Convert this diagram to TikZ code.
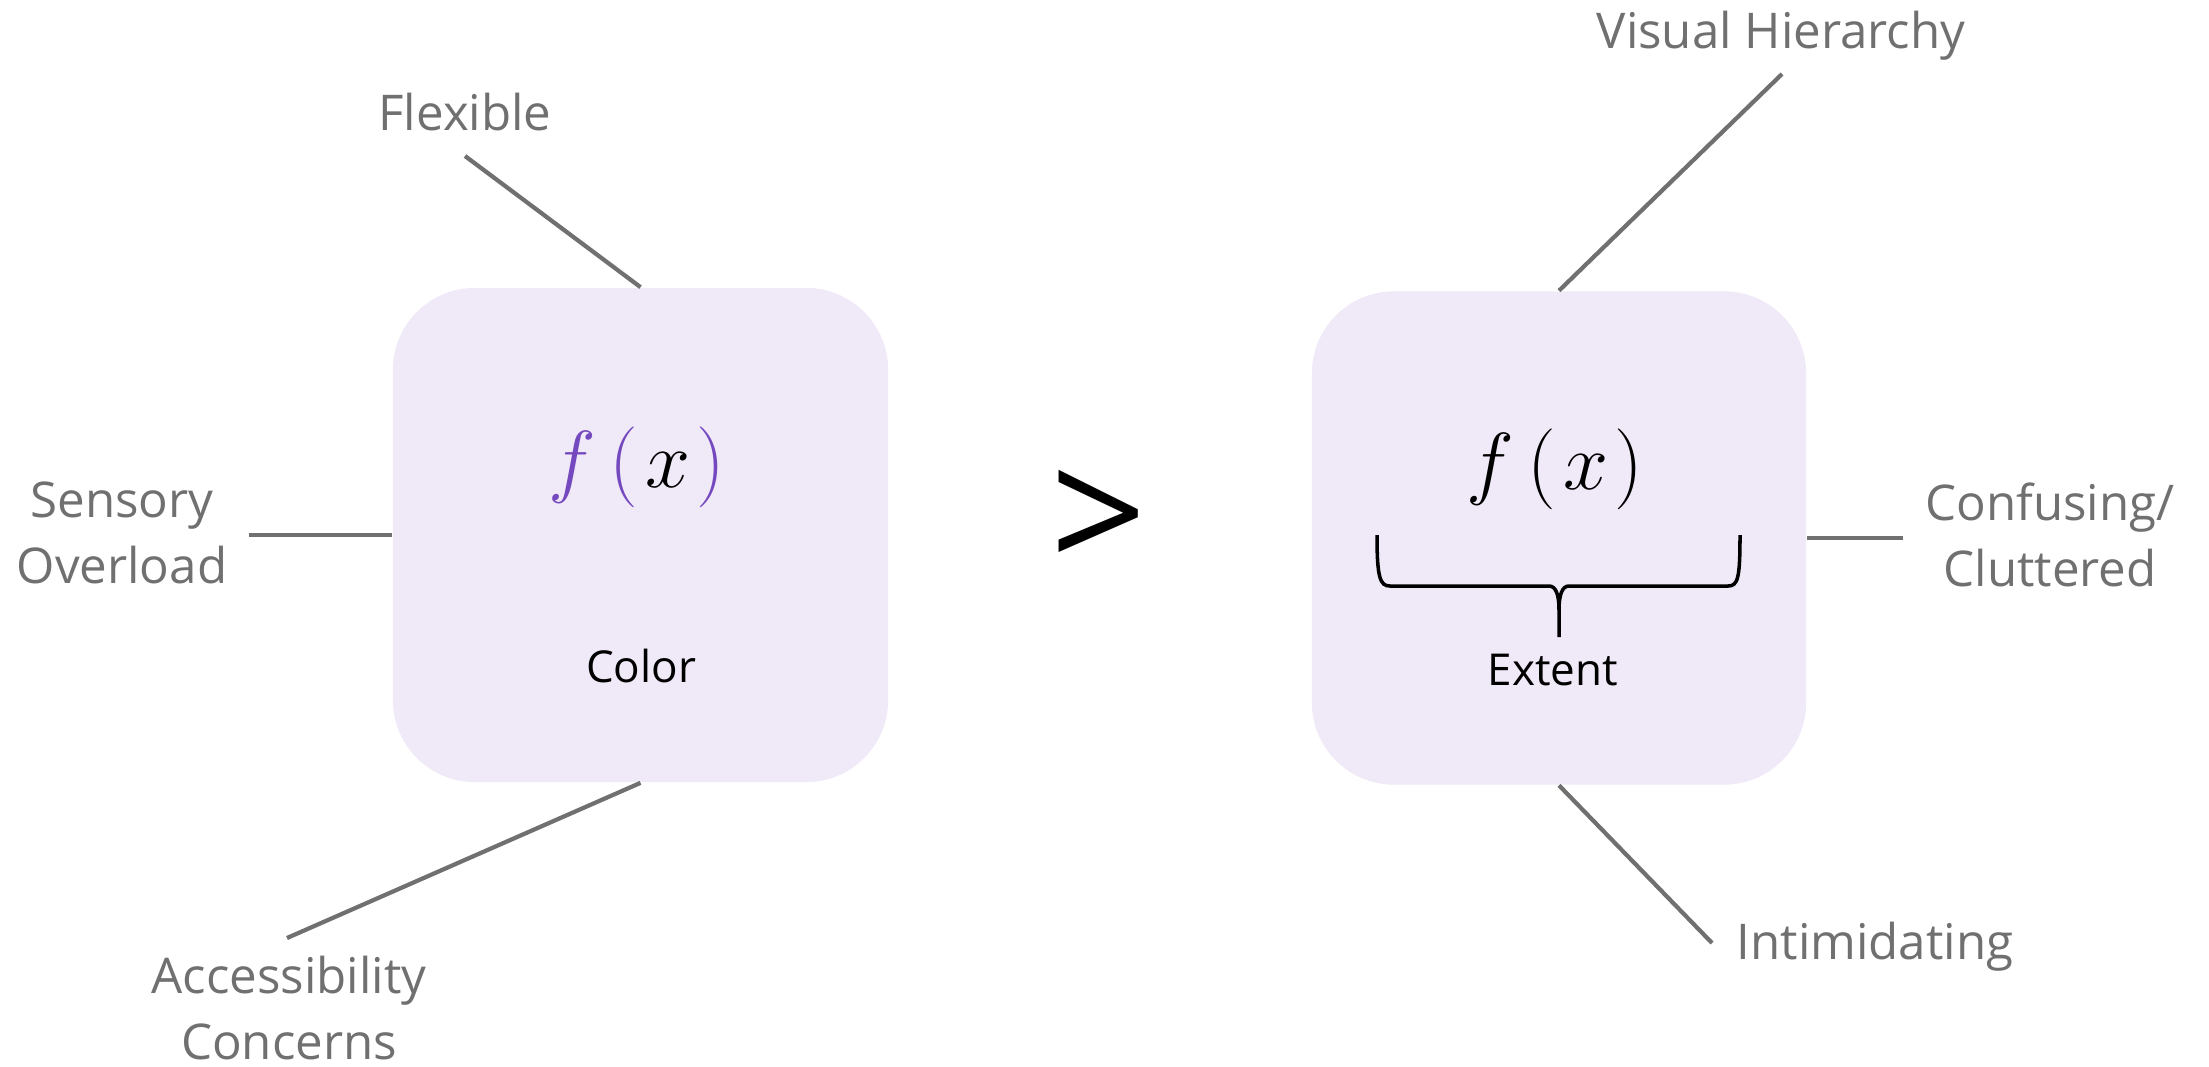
\RequirePackage{fix-cm}
\documentclass[tikz,border=0pt]{standalone}
\usepackage{fontspec}
\setmainfont{Open Sans}
\usepackage{xcolor}
\usetikzlibrary{positioning}

\definecolor{boxfill}{RGB}{240,233,248}
\definecolor{leadgray}{RGB}{112,112,112}
\definecolor{fxpurple}{RGB}{116,72,190}

\tikzset{
  fbox/.style={fill=boxfill, draw=none, rounded corners=0.82cm,
               minimum width=4.95cm, minimum height=4.94cm},
  leader/.style={draw=leadgray, line width=1.2pt},
  lbl/.style={text=leadgray, font=\fontsize{14}{18.7}\selectfont,
              align=center, inner sep=0pt, anchor=base},
  inner/.style={font=\fontsize{12.5}{15}\selectfont, inner sep=0pt, anchor=base},
  fx/.style={font=\fontsize{23}{27}\selectfont, inner sep=0pt, anchor=base}
}

\begin{document}
\begin{tikzpicture}[x=0.01cm, y=-0.01cm]
  \useasboundingbox (0,0) rectangle (2209,1066);

  % the two boxes
  \node[fbox] (colorbox) at (640.5,535) {};
  \node[fbox, minimum width=4.94cm, minimum height=4.93cm] (extentbox) at (1559,538) {};

  \node[fx] (fxleft) at (637,487)
    {${\color{fxpurple}f\mkern3mu(}\mkern1.5mu x\mkern1.5mu{\color{fxpurple})}$};
  \node[inner] (colortxt) at (641,682) {Color};

  \node[fx] (fxright) at (1555,489) {$f\mkern3mu(\mkern1.5mu x\mkern1.5mu)$};
  \node[inner] (extenttxt) at (1553,685) {Extent};

  % brace under f(x)
  \draw[line width=1pt] (1377,535) .. controls (1377,578) and (1380,586) .. (1390,586)
    -- (1549,586) .. controls (1556,586) and (1559,595) .. (1559,610) -- (1559,637)
    (1559,610) .. controls (1559,595) and (1562,586) .. (1569,586)
    -- (1728,586) .. controls (1738,586) and (1740,578) .. (1740,535);

  \node[font=\fontsize{48}{48}\selectfont, inner sep=0pt] (gt) at (1099,521) {>};

  % left labels
  \node[lbl] (flex) at (465,130) {Flexible};
  \node[lbl] (sens) at (122,583) {Sensory\\Overload};
  \node[lbl] (access) at (289,1059) {Accessibility\\Concerns};
  \coordinate (flexend) at (465,156);
  \coordinate (sensend) at (249,535);
  \coordinate (accend) at (287,938);
  \draw[leader] (colorbox.north) -- (flexend);
  \draw[leader] (colorbox.west) -- (sensend);
  \draw[leader] (colorbox.south) -- (accend);

  % right labels
  \node[lbl] (visual) at (1781,48) {Visual Hierarchy};
  \node[lbl] (confuse) at (2050,586) {Confusing/\\Cluttered};
  \node[lbl] (intim) at (1875,959) {Intimidating};
  \coordinate (visend) at (1782,74);
  \coordinate (confend) at (1903,538);
  \coordinate (intimend) at (1712,943);
  \draw[leader] (extentbox.north) -- (visend);
  \draw[leader] (extentbox.east) -- (confend);
  \draw[leader] (extentbox.south) -- (intimend);
\end{tikzpicture}
\end{document}
